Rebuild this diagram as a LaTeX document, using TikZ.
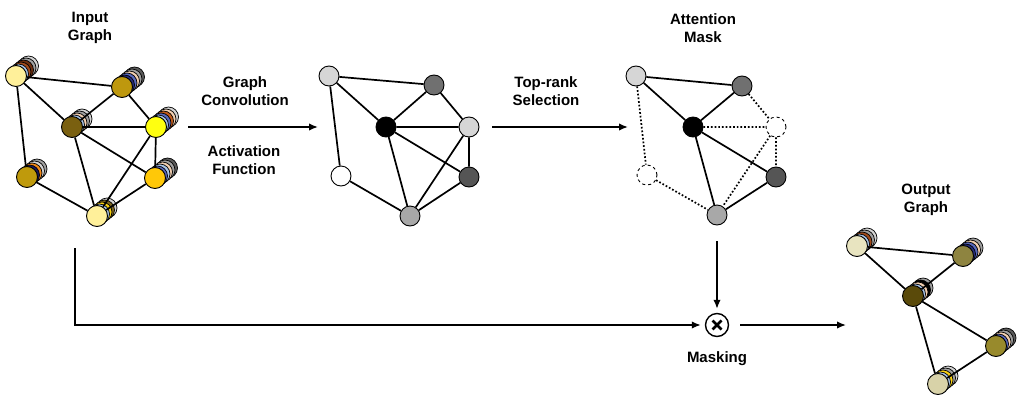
\documentclass[tikz,border=0pt]{standalone}
\usepackage{fontspec}
\setmainfont{Liberation Sans}
\usetikzlibrary{arrows.meta,calc}
\pgfdeclarelayer{canvas}
\pgfdeclarelayer{bg}
\pgfdeclarelayer{edge}
\pgfsetlayers{canvas,bg,edge,main}
% colours
\definecolor{lblue}{HTML}{A8C4E8}
\definecolor{blue2}{HTML}{5868BC}
\definecolor{navy}{HTML}{262C7C}
\definecolor{dnavy}{HTML}{18185E}
\definecolor{brownA}{HTML}{A04A1A}
\definecolor{brownB}{HTML}{6E2E0E}
\definecolor{peach}{HTML}{F2CFB0}
\definecolor{lgray}{HTML}{D4D4D4}
\definecolor{mgray}{HTML}{A0A0A0}
\definecolor{dgray}{HTML}{5A5A5A}
\definecolor{orangeE}{HTML}{F08818}
\definecolor{orangeD}{HTML}{C25A1A}
\definecolor{yellowG}{HTML}{F8D010}
\definecolor{goldG}{HTML}{7A6420}
% front colours
\definecolor{fA}{HTML}{FFF09A}
\definecolor{fB}{HTML}{BE980E}
\definecolor{fC}{HTML}{7A6010}
\definecolor{fD}{HTML}{FFFF10}
\definecolor{fE}{HTML}{BF9A0C}
\definecolor{fF}{HTML}{FFC808}
\definecolor{fo1}{HTML}{E8E4C0}
\definecolor{fo2}{HTML}{8E8440}
\definecolor{fo3}{HTML}{5A4A0A}
\definecolor{fo4}{HTML}{988A2C}
\definecolor{fo5}{HTML}{D8D2A8}
% grey nodes
\definecolor{g1}{HTML}{D6D6D6}
\definecolor{g2}{HTML}{707070}
\definecolor{g6}{HTML}{555555}
\definecolor{g7}{HTML}{A8A8A8}
\newcommand{\featstack}[4]{%
  \foreach \c [count=\i] in {#4} {%
    \pgfmathsetmacro\k{#3-\i+1}%
    \filldraw[fill=\c, draw=black, line width=0.7pt] ({#1+\k*2.5},{#2-\k*2.0}) circle (10pt);
  }%
}
\begin{document}
\begin{tikzpicture}[x=1pt,y=-1pt,
  fnode/.style={circle, draw=black, line width=0.9pt, minimum size=21pt, inner sep=0pt},
  gnode/.style={circle, draw=black, line width=0.9pt, minimum size=20pt, inner sep=0pt},
  ghost/.style={circle, draw=black, dashed, line width=0.9pt, minimum size=20pt, inner sep=0pt, fill=white},
  edgeline/.style={line width=1.7pt},
  dotline/.style={line width=1.7pt, dotted},
  flow/.style={line width=1.6pt, -{Latex[length=9pt,width=7.5pt]}},
  lbl/.style={font=\bfseries\fontsize{15}{18.5}\selectfont, align=center, inner sep=0pt}
]
\begin{pgfonlayer}{canvas}
\path[fill=white] (0,0) rectangle (1020,410);
\end{pgfonlayer}
\path[use as bounding box] (0,0) rectangle (1020,410);

% ---------------- labels
\node[lbl] (tin) at (90,28) {Input\\Graph};
\node[lbl] (tgc) at (245,91) {Graph\\Convolution};
\node[lbl] (taf) at (244,160) {Activation\\Function};
\node[lbl] (ttr) at (546,91) {Top-rank\\Selection};
\node[lbl] (tam) at (703,28) {Attention\\Mask};
\node[lbl] (tog) at (926,200) {Output\\Graph};
\node[lbl] (tmk) at (717,359) {Masking};

% ---------------- input graph
\begin{pgfonlayer}{bg}
\featstack{16}{76}{5}{lgray,mgray,brownB,brownA,lblue}
\featstack{122}{87}{5}{dgray,mgray,peach,blue2,navy}
\featstack{72}{127}{4}{lgray,mgray,peach,lblue}
\featstack{156}{127}{5}{lgray,peach,orangeD,blue2,lblue}
\featstack{27}{177}{4}{mgray,lgray,orangeE,dnavy}
\featstack{155}{178}{5}{dgray,mgray,peach,lblue,blue2}
\featstack{97}{216}{4}{lgray,goldG,yellowG,lblue}
\end{pgfonlayer}
\node[fnode, fill=fA] (A) at (16,76) {};
\node[fnode, fill=fB] (B) at (122,87) {};
\node[fnode, fill=fC] (C) at (72,127) {};
\node[fnode, fill=fD] (D) at (156,127) {};
\node[fnode, fill=fE] (E) at (27,177) {};
\node[fnode, fill=fF] (F) at (155,178) {};
\node[fnode, fill=fA] (G) at (97,216) {};
\begin{pgfonlayer}{edge}
\draw[edgeline] (A) -- (B) (A) -- (C) (A) -- (E) (B) -- (C) (B) -- (D)
  (C) -- (D) (C) -- (F) (C) -- (G) (D) -- (G) (D) -- (F) (E) -- (G) (F) -- (G);
\end{pgfonlayer}

% ---------------- convolved graph
\node[gnode, fill=g1] (p1) at (329,76) {};
\node[gnode, fill=g2] (p2) at (434,85) {};
\node[gnode, fill=black] (p3) at (386,127) {};
\node[gnode, fill=g1] (p4) at (469,127) {};
\node[gnode, fill=white] (p5) at (341,176) {};
\node[gnode, fill=g6] (p6) at (469,177) {};
\node[gnode, fill=g7] (p7) at (410,216) {};
\begin{pgfonlayer}{edge}
\draw[edgeline] (p1) -- (p2) (p1) -- (p3) (p1) -- (p5) (p2) -- (p3) (p2) -- (p4)
  (p3) -- (p4) (p3) -- (p6) (p3) -- (p7) (p4) -- (p7) (p4) -- (p6) (p5) -- (p7) (p6) -- (p7);
\end{pgfonlayer}

% ---------------- attention mask
\node[gnode, fill=g1] (q1) at (636,76) {};
\node[gnode, fill=g2] (q2) at (742,86) {};
\node[gnode, fill=black] (q3) at (693,127) {};
\node[ghost] (q4) at (776,127) {};
\node[ghost] (q5) at (647,175) {};
\node[gnode, fill=g6] (q6) at (776,177) {};
\node[gnode, fill=g7] (q7) at (717,215) {};
\begin{pgfonlayer}{edge}
\draw[edgeline] (q1) -- (q2) (q1) -- (q3) (q2) -- (q3) (q3) -- (q6) (q3) -- (q7) (q6) -- (q7);
\draw[dotline] (q1) -- (q5) (q2) -- (q4) (q3) -- (q4) (q4) -- (q7) (q4) -- (q6) (q5) -- (q7);
\end{pgfonlayer}

% ---------------- output graph
\begin{pgfonlayer}{bg}
\featstack{857}{246}{4}{lgray,mgray,brownA,lblue}
\featstack{963}{256}{4}{mgray,peach,blue2,navy}
\featstack{913}{296}{4}{mgray,black,peach,lblue}
\featstack{996}{346}{4}{dgray,mgray,peach,blue2}
\featstack{938}{384}{4}{lgray,mgray,yellowG,lblue}
\end{pgfonlayer}
\node[fnode, fill=fo1] (o1) at (857,246) {};
\node[fnode, fill=fo2] (o2) at (963,256) {};
\node[fnode, fill=fo3] (o3) at (913,296) {};
\node[fnode, fill=fo4] (o4) at (996,346) {};
\node[fnode, fill=fo5] (o5) at (938,384) {};
\begin{pgfonlayer}{edge}
\draw[edgeline] (o1) -- (o2) (o1) -- (o3) (o2) -- (o3) (o3) -- (o4) (o3) -- (o5) (o4) -- (o5);
\end{pgfonlayer}

% ---------------- masking operator
\node[circle, draw=black, line width=1.4pt, minimum size=23pt, inner sep=0pt] (mask) at (717,325) {};
\draw[line width=2.8pt] ($(mask)+(-4.5,-4.5)$) -- ($(mask)+(4.5,4.5)$) ($(mask)+(-4.5,4.5)$) -- ($(mask)+(4.5,-4.5)$);

% ---------------- flow arrows
\coordinate (a1s) at (188,127);
\coordinate (a1e) at (318,127);
\coordinate (a2s) at (492,127);
\coordinate (a2e) at (628,127);
\coordinate (a3s) at (717,241);
\coordinate (skip) at (75,248);
\coordinate (a4s) at (740,325);
\coordinate (a4e) at (846,325);
\draw[flow] (a1s) -- (a1e);
\draw[flow] (a2s) -- (a2e);
\draw[flow] (a3s) -- ($(mask.north)+(0,-4)$);
\draw[flow] (skip) |- ($(mask.west)+(-4,0)$);
\draw[flow] (a4s) -- (a4e);
\end{tikzpicture}
\end{document}
